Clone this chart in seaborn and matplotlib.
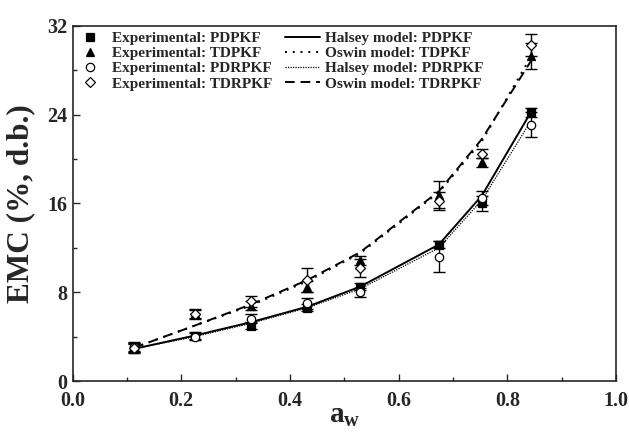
import numpy as np
import pandas as pd
import seaborn as sns
import matplotlib.pyplot as plt

# water activity levels
aw = [0.113, 0.225, 0.328, 0.432, 0.529, 0.674, 0.753, 0.843]

# experimental EMC (% d.b.) and standard deviations
emc_pdpkf = [3.0, 4.1, 5.0, 6.6, 8.5, 12.3, 16.0, 24.2]
err_pdpkf = [0.4, 0.3, 0.3, 0.3, 0.3, 0.3, 0.7, 0.4]
emc_tdpkf = [2.9, 6.1, 6.8, 8.5, 10.9, 16.8, 19.7, 29.3]
err_tdpkf = [0.4, 0.4, 0.4, 0.5, 0.4, 1.2, 0.4, 1.2]
emc_pdrpkf = [3.1, 4.0, 5.6, 7.0, 8.0, 11.2, 16.5, 23.1]
err_pdrpkf = [0.4, 0.3, 0.4, 0.5, 0.4, 1.4, 0.6, 1.1]
emc_tdrpkf = [3.0, 6.0, 7.2, 9.1, 10.2, 16.2, 20.5, 30.3]
err_tdrpkf = [0.4, 0.4, 0.5, 1.1, 0.8, 0.8, 0.4, 1.0]

# model predictions
halsey_pdpkf = [2.9, 4.1, 5.3, 6.7, 8.5, 12.3, 16.7, 24.2]
oswin_tdpkf = [3.0, 5.0, 6.8, 9.0, 11.5, 17.0, 21.6, 29.2]
halsey_pdrpkf = [2.9, 4.0, 5.2, 6.6, 8.3, 12.0, 16.3, 23.4]
oswin_tdrpkf = [3.0, 5.0, 6.9, 9.1, 11.6, 17.1, 21.8, 28.8]

sns.set_style('ticks')
plt.rcParams['font.family'] = ['Liberation Serif', 'DejaVu Serif']
plt.rcParams['font.weight'] = 'bold'
plt.rcParams['mathtext.fontset'] = 'custom'
plt.rcParams['mathtext.rm'] = 'Liberation Serif:bold'
plt.rcParams['mathtext.bf'] = 'Liberation Serif:bold'
plt.rcParams['xtick.direction'] = 'in'
plt.rcParams['ytick.direction'] = 'in'

fig = plt.figure(figsize=(6.29, 4.32), dpi=100)
ax = fig.add_axes([0.1154, 0.118, 0.864, 0.822])

exp = [
    ('Experimental: PDPKF', emc_pdpkf, err_pdpkf, 's', 'black'),
    ('Experimental: TDPKF', emc_tdpkf, err_tdpkf, '^', 'black'),
    ('Experimental: PDRPKF', emc_pdrpkf, err_pdrpkf, 'o', 'white'),
    ('Experimental: TDRPKF', emc_tdrpkf, err_tdrpkf, 'D', 'white'),
]
models = [
    ('Halsey model: PDPKF', halsey_pdpkf, '-', 1.4),
    ('Oswin model: TDPKF', oswin_tdpkf, (0, (1, 3)), 1.4),
    ('Halsey model: PDRPKF', halsey_pdrpkf, (0, (1, 1)), 0.9),
    ('Oswin model: TDRPKF', oswin_tdrpkf, (0, (5, 3)), 1.4),
]

for name, vals, ls, lw in models:
    df = pd.DataFrame({'aw': aw, 'emc': vals})
    sns.lineplot(data=df, x='aw', y='emc', ax=ax, color='black', linestyle=ls,
                 linewidth=lw, label=name, zorder=2)

for name, vals, errs, mk, fc in exp:
    ms = 6 if mk != 'D' else 5
    ax.errorbar(aw, vals, yerr=errs, fmt='none', ecolor='black', elinewidth=1,
                capsize=4, capthick=1, zorder=3)
    ax.plot(aw, vals, linestyle='none', marker=mk, markersize=ms,
            markerfacecolor=fc, markeredgecolor='black', markeredgewidth=0.9,
            label=name, zorder=4)

handles, labels = ax.get_legend_handles_labels()
order = [labels.index(n) for n, *_ in exp] + [labels.index(n) for n, *_ in models]
ax.legend([handles[i] for i in order], [labels[i] for i in order], ncol=2,
          loc='upper left', bbox_to_anchor=(0.0, 0.985), frameon=False,
          handlelength=2.3, labelspacing=0.1, columnspacing=0.8,
          handletextpad=0.3, borderaxespad=0.0, borderpad=0.0,
          prop={'weight': 'bold', 'size': 11})

ax.set_xlim(0, 1.0)
ax.set_ylim(0, 32)
ax.set_xticks(np.arange(0, 1.01, 0.2))
ax.set_xticks(np.arange(0.1, 1.0, 0.2), minor=True)
ax.set_yticks([0, 8, 16, 24, 32])
ax.set_yticks([4, 12, 20, 28], minor=True)
ax.tick_params(axis='both', which='major', labelsize=14.5, length=5, width=1)
ax.tick_params(axis='x', which='major', pad=7.5)
ax.tick_params(axis='y', which='major', pad=4)
ax.tick_params(axis='both', which='minor', length=3, width=1)
for lab in ax.get_xticklabels() + ax.get_yticklabels():
    lab.set_fontweight('bold')
for sp in ax.spines.values():
    sp.set_linewidth(1.2)

ax.set_xlabel(r'$\mathbf{a_w}$', fontsize=21, fontweight='bold')
ax.xaxis.set_label_coords(0.5, -0.058)
ax.set_ylabel('EMC (%, d.b.)', fontsize=22.5, fontweight='bold', labelpad=8)

plt.savefig('out.png', dpi=100)
